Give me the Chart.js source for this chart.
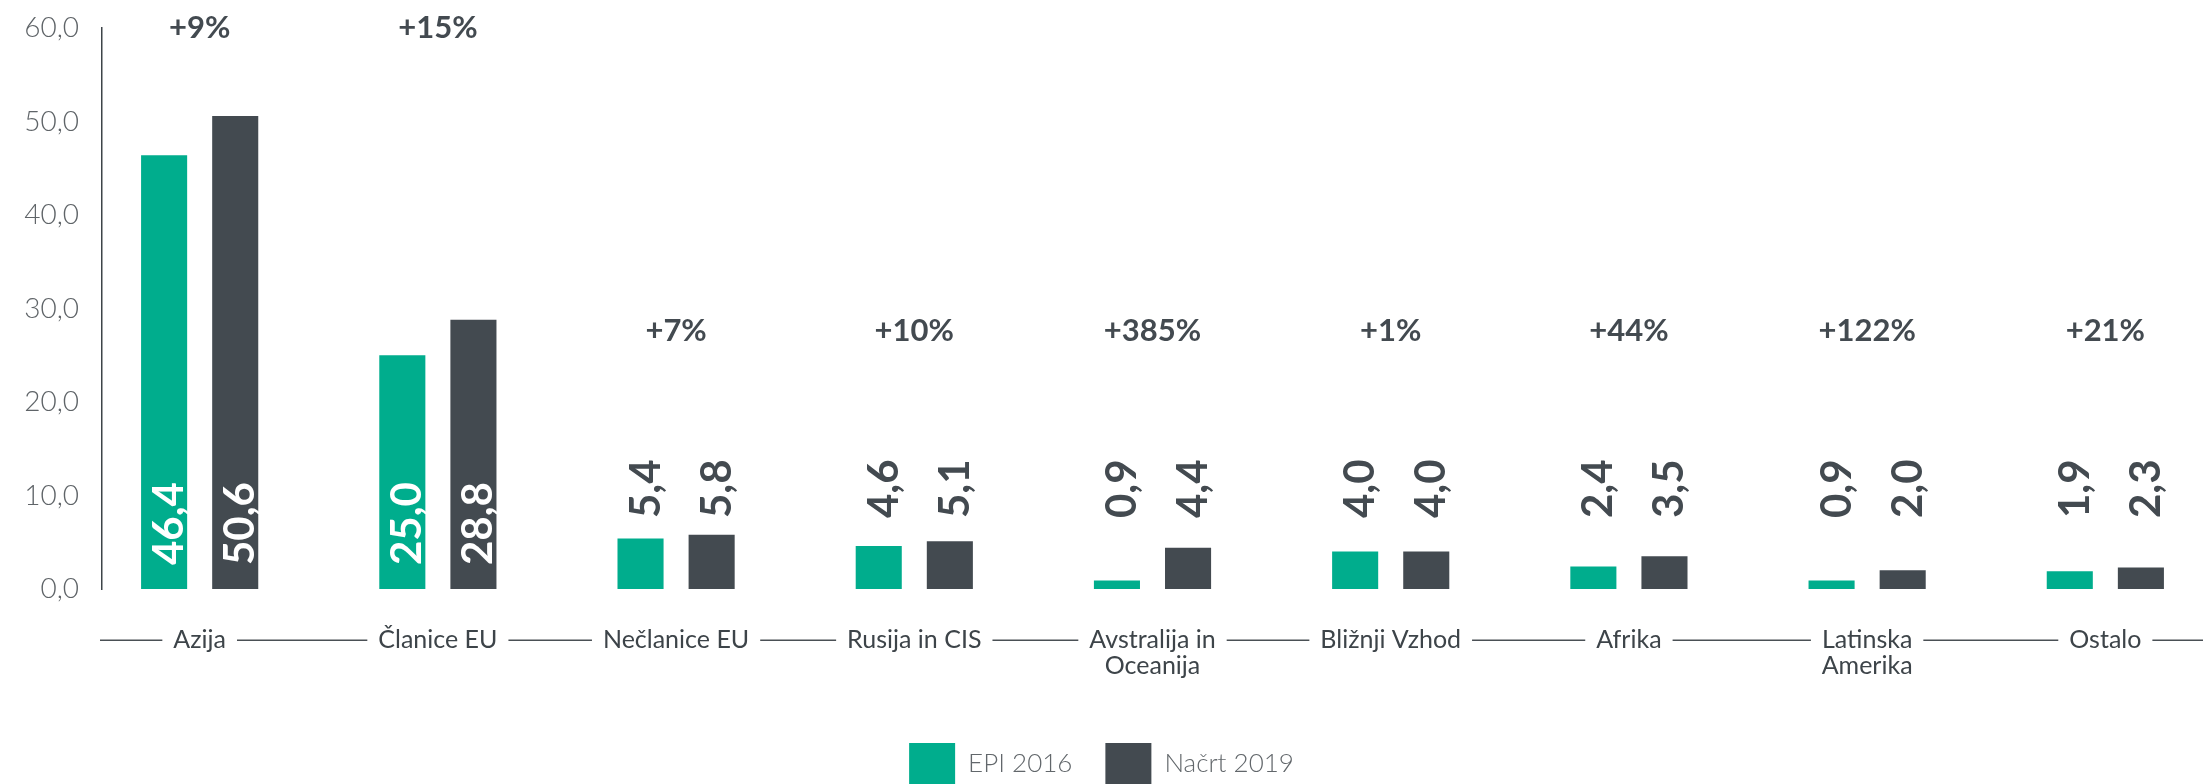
<!DOCTYPE html>
<html>
<head>
<meta charset="utf-8">
<script src="https://cdn.jsdelivr.net/npm/chart.js@4/dist/chart.umd.min.js"></script>
<style>
  html, body { margin: 0; padding: 0; background: #fff; overflow: hidden; }
  #wrap { width: 2203px; height: 784px; position: relative; }
</style>
</head>
<body>
<div id="wrap"><canvas id="myChart"></canvas></div>
<script>
// categories (x axis)
var categories = ['Azija', 'Članice EU', 'Nečlanice EU', 'Rusija in CIS', ['Avstralija in', 'Oceanija'],
    'Bližnji Vzhod', 'Afrika', ['Latinska', 'Amerika'], 'Ostalo'];

// series values
var epi2016 = [46.4, 25.0, 5.4, 4.6, 0.9, 4.0, 2.4, 0.9, 1.9];
var nacrt2019 = [50.6, 28.8, 5.8, 5.1, 4.4, 4.0, 3.5, 2.0, 2.3];

// change labels above each group
var changes = ['+9%', '+15%', '+7%', '+10%', '+385%', '+1%', '+44%', '+122%', '+21%'];

// y axis ticks
var yTicks = [0, 10, 20, 30, 40, 50, 60];

var green = '#00ad8d';
var dark = '#434a50';
var fmt = function (v) { return v.toFixed(1).replace('.', ','); };

var element = document.getElementById('myChart').getContext('2d');

// line behind the category labels, broken around each label
var labelLine = {
    id: 'labelLine',
    beforeDraw: function (chart) {
        var x = chart.scales.x, ctx = chart.ctx;
        var t = x.options.ticks;
        var y = x.top + t.padding + t.font.size * t.font.lineHeight / 2;
        ctx.save();
        ctx.font = t.font.size + 'px ' + t.font.family;
        ctx.strokeStyle = '#4a5055';
        ctx.lineWidth = 1.5;
        ctx.beginPath();
        var start = 100;
        categories.forEach(function (c, i) {
            var first = Array.isArray(c) ? c[0] : c;
            var w = ctx.measureText(first).width;
            var cx = x.getPixelForValue(i);
            ctx.moveTo(start, y);
            ctx.lineTo(cx - w / 2 - 11, y);
            start = cx + w / 2 + 11;
        });
        ctx.moveTo(start, y);
        ctx.lineTo(chart.width, y);
        ctx.stroke();
        ctx.restore();
    }
};

// rotated value labels + change labels
var barLabels = {
    id: 'barLabels',
    afterDatasetsDraw: function (chart) {
        var ctx = chart.ctx, ys = chart.scales.y, xs = chart.scales.x;
        var base = ys.getPixelForValue(0);
        ctx.save();
        chart.data.datasets.forEach(function (ds, di) {
            var meta = chart.getDatasetMeta(di);
            meta.data.forEach(function (bar, i) {
                var v = ds.data[i].y;
                var inside = v > 10;
                ctx.save();
                ctx.translate(bar.x, inside ? base - 24 : base - 71);
                ctx.rotate(-Math.PI / 2);
                ctx.font = 'bold 42px Lato';
                ctx.fillStyle = inside ? '#ffffff' : dark;
                ctx.textAlign = 'left';
                ctx.textBaseline = 'alphabetic';
                ctx.fillText(fmt(v), 0, 19);
                ctx.restore();
            });
        });
        ctx.font = 'bold 31px Lato';
        ctx.fillStyle = dark;
        ctx.textAlign = 'center';
        ctx.textBaseline = 'middle';
        changes.forEach(function (c, i) {
            var top = Math.max(epi2016[i], nacrt2019[i]) > 27 ? 60 : 27.6;
            ctx.fillText(c, xs.getPixelForValue(i), ys.getPixelForValue(top));
        });
        ctx.restore();
    }
};

var chartData = {
    datasets: [{
        label: 'EPI 2016',
        data: epi2016.map(function (v, i) { return { x: i, y: v }; }),
        backgroundColor: green
    }, {
        label: 'Načrt 2019',
        data: nacrt2019.map(function (v, i) { return { x: i, y: v }; }),
        backgroundColor: dark
    }]
};

var chartOptions = {
    responsive: true,
    maintainAspectRatio: false,
    animation: false,
    categoryPercentage: 0.597,
    barPercentage: 0.648,
    layout: { padding: { top: 28, left: 0, right: 0, bottom: -10 } },
    plugins: {
        tooltip: { enabled: false },
        legend: {
            position: 'bottom',
            labels: {
                boxWidth: 46,
                boxHeight: 41,
                padding: 33,
                color: '#62676b',
                font: { family: 'Lato', size: 26, weight: 300 }
            }
        }
    },
    scales: {
        x: {
            type: 'linear',
            min: -0.41,
            max: 8.41,
            offset: false,
            grid: { display: false, drawTicks: false },
            border: { display: false },
            afterBuildTicks: function (scale) {
                scale.ticks = categories.map(function (c, i) { return { value: i }; });
            },
            afterFit: function (scale) { scale.height = 121; },
            ticks: {
                autoSkip: false,
                maxRotation: 0,
                padding: 38,
                color: '#3d4449',
                font: { family: 'Lato', size: 25, lineHeight: 1.05 },
                callback: function (v) { return categories[v]; }
            }
        },
        y: {
            min: 0,
            max: 60,
            // tick marks hidden; tickLength only spaces labels from the axis
            grid: { display: false, drawTicks: true, tickLength: 23 },
            border: { display: true, color: '#3d4449', width: 1.5 },
            afterBuildTicks: function (scale) {
                scale.ticks = yTicks.map(function (v) { return { value: v }; });
            },
            afterFit: function (scale) { scale.width = 102; },
            ticks: {
                padding: 0,
                color: '#5f6468',
                font: { family: 'Lato', size: 28, weight: 300 },
                callback: function (v) { return fmt(v); }
            }
        }
    }
};

var chart = new Chart(element, { type: 'bar', data: chartData, options: chartOptions, plugins: [labelLine, barLabels] });
</script>
</body>
</html>
